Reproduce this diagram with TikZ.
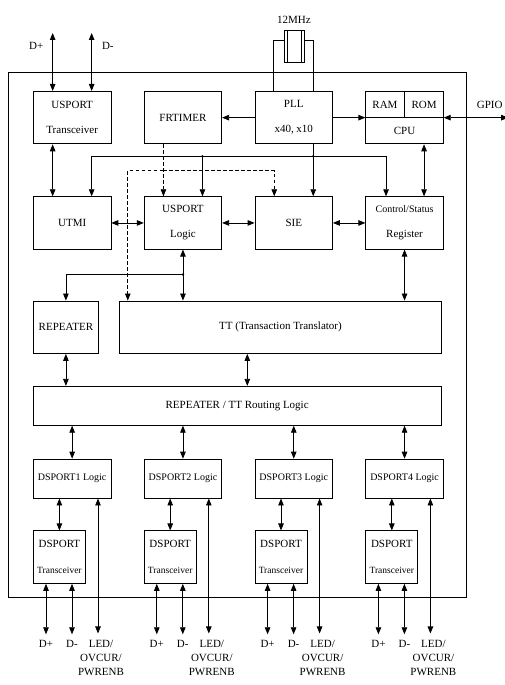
\documentclass[tikz,border=0pt]{standalone}
\usepackage{fontspec}
\setmainfont{Liberation Serif}
\usetikzlibrary{positioning,arrows.meta,calc}
\tikzset{
  blk/.style={draw,minimum width=77.5pt,minimum height=52.5pt,
    inner sep=1pt,align=center,font=\fontsize{11}{25}\selectfont},
  thinblk/.style={blk,minimum height=39pt},
  xcvrblk/.style={blk,minimum width=52pt,font=\fontsize{11}{25.5}\selectfont},
  sig/.style={<->},
  tmrsig/.style={->,dash pattern=on 3.5pt off 2.5pt},
  pinlbl/.style={font=\fontsize{11}{14}\selectfont,inner sep=0pt,align=center},
  cpulbl/.style={font=\fontsize{11}{13}\selectfont,inner sep=0pt},
  junc/.style={circle,fill=black,inner sep=0pt,minimum size=2.6pt},
}

\begin{document}
\begin{tikzpicture}[x=1pt,y=1pt,line width=0.8pt,
    >={Triangle[length=7pt,width=5.5pt]},node distance=32.5pt]
  \useasboundingbox (0,0) rectangle (505,685);
  \node[draw,minimum width=458pt,minimum height=525pt,anchor=north west] (chip) at (8,613) {};

  \node[blk,anchor=north west] (usx) at (33,594) {USPORT\\Transceiver};
  \node[blk,right=of usx] (frt) {FRTIMER};
  \node[blk,right=of frt] (pll) {PLL\\x40, x10};
  \node[blk,right=of pll] (cpu) {};
  \draw (cpu.west) -- (cpu.east) (cpu.north) -- (cpu.center);
  \node[cpulbl] (ram) at ($(cpu.north west)!0.5!(cpu.north)+(0,-13.5)$) {RAM};
  \node[cpulbl] (rom) at ($(cpu.north)!0.5!(cpu.north east)+(0,-13.5)$) {ROM};
  \node[cpulbl] (cpul) at ($(cpu.south)+(0,13)$) {CPU};

  \node[blk,below=52pt of usx] (utmi) {UTMI};
  \node[blk,right=of utmi] (usl) {USPORT\\Logic};
  \node[blk,right=of usl] (sie) {SIE};
  \node[blk,right=of sie] (csr) {{\fontsize{10}{12}\selectfont Control/Status}\\Register};

  \node[blk,minimum width=65pt,below=51pt of utmi.south west,anchor=north west] (rep) {REPEATER};
  \node[blk,minimum width=322.5pt,right=20pt of rep] (tt) {TT (Transaction Translator)};
  \node[thinblk,minimum width=407.5pt,below=32pt of rep.south west,anchor=north west] (route)
    {REPEATER / TT Routing Logic};

  \node[thinblk,font=\fontsize{10}{12}\selectfont,below=33pt of route.south west,anchor=north west] (dl1) {DSPORT1 Logic};
  \node[thinblk,font=\fontsize{10}{12}\selectfont,right=of dl1] (dl2) {DSPORT2 Logic};
  \node[thinblk,font=\fontsize{10}{12}\selectfont,right=of dl2] (dl3) {DSPORT3 Logic};
  \node[thinblk,font=\fontsize{10}{12}\selectfont,right=of dl3] (dl4) {DSPORT4 Logic};
  \node[xcvrblk,below=32pt of dl1.south west,anchor=north west] (dx1) {DSPORT\\{\fontsize{9.5}{11}\selectfont Transceiver}};
  \node[xcvrblk,below=32pt of dl2.south west,anchor=north west] (dx2) {DSPORT\\{\fontsize{9.5}{11}\selectfont Transceiver}};
  \node[xcvrblk,below=32pt of dl3.south west,anchor=north west] (dx3) {DSPORT\\{\fontsize{9.5}{11}\selectfont Transceiver}};
  \node[xcvrblk,below=32pt of dl4.south west,anchor=north west] (dx4) {DSPORT\\{\fontsize{9.5}{11}\selectfont Transceiver}};

  \node[draw,minimum width=20pt,minimum height=32pt,inner sep=0pt] (xtal) at ($(pll.north)+(0.25,45)$) {};
  \draw ($(xtal.north west)+(3.5,0)$) -- ($(xtal.south west)+(3.5,0)$)
    ($(xtal.north east)+(-3.5,0)$) -- ($(xtal.south east)+(-3.5,0)$);
  \node[pinlbl,anchor=base] (xtall) at ($(xtal.north)+(0,6)$) {12MHz};
  \draw ($(pll.north)+(-20.5,0)$) |- ($(xtal.west)+(0,6)$);
  \draw ($(pll.north)+(20,0)$) |- ($(xtal.east)+(0,6)$);

  \coordinate (udp) at ($(usx.north)+(-19.5,58)$);
  \coordinate (udm) at ($(usx.north)+(19.5,58)$);
  \draw[sig] (udp) -- (udp |- usx.north);
  \draw[sig] (udm) -- (udm |- usx.north);
  \node[pinlbl,anchor=east] (udpl) at ($(udp)+(-9,-13)$) {D+};
  \node[pinlbl,anchor=west] (udml) at ($(udm)+(10,-13)$) {D-};
  \draw[sig] (usx.south -| udp) -- (utmi.north -| udp);

  \path[->] (pll) edge (frt) (pll) edge (cpu);
  \path[sig] (utmi) edge (usl) (usl) edge (sie) (sie) edge (csr);
  \draw[sig] ($(cpu.south)+(19.5,0)$) -- ($(csr.north)+(19.5,0)$);
  \coordinate (gpio) at ($(cpu.east)+(64.5,0)$);
  \draw[sig] (cpu.east) -- (gpio);
  \node[pinlbl,anchor=base] (gpiol) at ($(cpu.east)+(46,9)$) {GPIO};

  \coordinate (clk) at ($(pll.south)+(19.5,-12)$);
  \coordinate (clkusl) at ($(usl.north)+(19.5,0)$);
  \draw[->] (pll.south -| clk) -- (sie.north -| clk);
  \draw[->] (clk) -| ($(utmi.north)+(19.5,0)$);
  \draw[->] (clk) -| ($(csr.north)+(-18.5,0)$);
  \draw[->] (clkusl |- clk) -- (clkusl);
  \node[junc] (j1) at (clk) {};
  \node[junc] (j2) at (clkusl |- clk) {};

  \coordinate (tmr) at ($(frt.south)+(-19.5,-26.5)$);
  \draw[tmrsig] (frt.south -| tmr) -- (usl.north -| tmr);
  \draw[tmrsig] (tmr) -| ($(tt.north west)+(9,0)$);
  \draw[tmrsig] (tmr) -| ($(sie.north)+(-19.5,0)$);

  \coordinate (rbr) at ($(usl.south)+(0,-25)$);
  \draw[sig] (usl.south) -- (usl.south |- tt.north);
  \draw[->] (rbr) -| (rep.north);
  \node[junc] (j3) at (rbr) {};
  \draw[sig] (csr.south) -- (csr.south |- tt.north);
  \draw[sig] (rep.south) -- (rep.south |- route.north);
  \coordinate (ttr) at ($(tt.south west)+(128.5,0)$);
  \draw[sig] (ttr) -- (ttr |- route.north);

  \foreach \i in {1,...,4}{
    \draw[sig] (dl\i.north |- route.south) -- (dl\i.north);
    \draw[sig] (dx\i.north) -- (dx\i.north |- dl\i.south);
    \coordinate (dp\i) at ($(dx\i.south west)+(13,-50.5)$);
    \coordinate (dm\i) at ($(dx\i.south west)+(39,-50.5)$);
    \coordinate (led\i) at ($(dl\i.south west)+(65,-135)$);
    \draw[sig] (dp\i |- dx\i.south) -- (dp\i);
    \draw[sig] (dm\i |- dx\i.south) -- (dm\i);
    \draw[sig] (led\i |- dl\i.south) -- (led\i);
    \node[pinlbl,anchor=north] (dpl\i) at ($(dp\i)+(0,-6)$) {D+};
    \node[pinlbl,anchor=north] (dml\i) at ($(dm\i)+(0,-6)$) {D-};
    \node[pinlbl,anchor=north] (ledl\i) at ($(led\i)+(3,-6)$) {LED/\\OVCUR/\\PWRENB};
  }
\end{tikzpicture}
\end{document}
